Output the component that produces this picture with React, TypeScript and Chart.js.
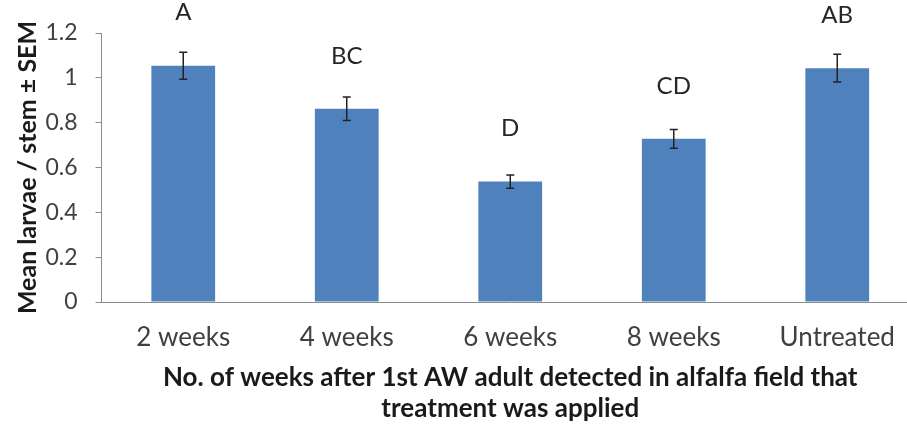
import React, { useEffect, useRef } from "react";
import { Chart, registerables } from "chart.js";

Chart.register(...registerables);

const CATEGORIES = ["2 weeks", "4 weeks", "6 weeks", "8 weeks", "Untreated"];
const MEANS = [1.054, 0.862, 0.537, 0.728, 1.043];
const SEM = [0.06, 0.052, 0.03, 0.042, 0.062];
const LETTERS = ["A", "BC", "D", "CD", "AB"];
const Y_TICKS = [0, 0.2, 0.4, 0.6, 0.8, 1, 1.2];

const FONT = "Lato";

const overlayPlugin = {
  id: "overlay",
  afterDatasetsDraw(chart: any) {
    const { ctx } = chart;
    const y = chart.scales.y;
    const meta = chart.getDatasetMeta(0);
    ctx.save();
    meta.data.forEach((bar: any, i: number) => {
      const x = bar.x;
      const v = MEANS[i];
      const e = SEM[i];
      const yTop = y.getPixelForValue(v + e);
      const yBot = y.getPixelForValue(v - e);
      ctx.strokeStyle = "#222222";
      ctx.lineWidth = 1.5;
      ctx.beginPath();
      ctx.moveTo(x, yTop);
      ctx.lineTo(x, yBot);
      ctx.moveTo(x - 4, yTop);
      ctx.lineTo(x + 4, yTop);
      ctx.moveTo(x - 4, yBot);
      ctx.lineTo(x + 4, yBot);
      ctx.stroke();
      ctx.fillStyle = "#262626";
      ctx.font = `24px ${FONT}`;
      ctx.textAlign = "center";
      ctx.textBaseline = "middle";
      ctx.fillText(LETTERS[i], x, y.getPixelForValue(v) - 53);
    });
    ctx.restore();
  },
};

export default function App() {
  const ref = useRef<HTMLCanvasElement | null>(null);
  useEffect(() => {
    if (!ref.current) return;
    const chart = new Chart(ref.current, {
      type: "bar",
      data: {
        labels: CATEGORIES,
        datasets: [
          {
            data: MEANS,
            backgroundColor: "#4F81BD",
            borderWidth: 0,
            barPercentage: 0.39,
            categoryPercentage: 1,
          },
        ],
      },
      plugins: [overlayPlugin],
      options: {
        animation: false,
        responsive: false,
        maintainAspectRatio: false,
        devicePixelRatio: 1,
        layout: { padding: { top: 33, right: 5, bottom: 0, left: 0 } },
        plugins: {
          legend: { display: false },
          tooltip: { enabled: false },
          title: { display: false },
        },
        scales: {
          x: {
            afterFit: (s: any) => {
              s.height = 125;
            },
            grid: { display: true, drawOnChartArea: false, drawTicks: false, color: "#8c8c8c" },
            border: { display: true, color: "#8c8c8c", width: 1 },
            ticks: {
              color: "#404040",
              font: { family: FONT, size: 26 },
              padding: 20,
              maxRotation: 0,
              autoSkip: false,
            },
            title: {
              display: true,
              text: [
                "No. of weeks after 1st AW adult detected in alfalfa field that",
                "treatment was applied",
              ],
              color: "#1a1a1a",
              font: { family: FONT, size: 26, weight: "bold", lineHeight: 1.2 },
              padding: { top: 0, bottom: 3 },
            },
          },
          y: {
            min: 0,
            max: 1.2,
            afterFit: (s: any) => {
              s.width = 101.5;
            },
            afterBuildTicks: (s: any) => {
              s.ticks = Y_TICKS.map((v) => ({ value: v }));
            },
            grid: { display: true, drawOnChartArea: false, drawTicks: true, tickLength: 6, color: "#8c8c8c" },
            border: { display: true, color: "#8c8c8c", width: 1 },
            ticks: {
              color: "#404040",
              font: { family: FONT, size: 23 },
              padding: 18,
              callback: (v: any) => String(Number(Number(v).toFixed(1))),
            },
            title: {
              display: true,
              text: "Mean larvae / stem ± SEM",
              color: "#1a1a1a",
              font: { family: FONT, size: 25, weight: "bold", lineHeight: 1.2 },
              padding: { top: 13, bottom: 0 },
            },
          },
        },
      },
    });
    return () => chart.destroy();
  }, []);
  return (
    <div
      style={{
        position: "fixed",
        left: 0,
        top: 0,
        width: 907,
        height: 427,
        overflow: "hidden",
        background: "#ffffff",
      }}
    >
      <canvas ref={ref} width={924} height={427} style={{ display: "block" }} />
    </div>
  );
}
